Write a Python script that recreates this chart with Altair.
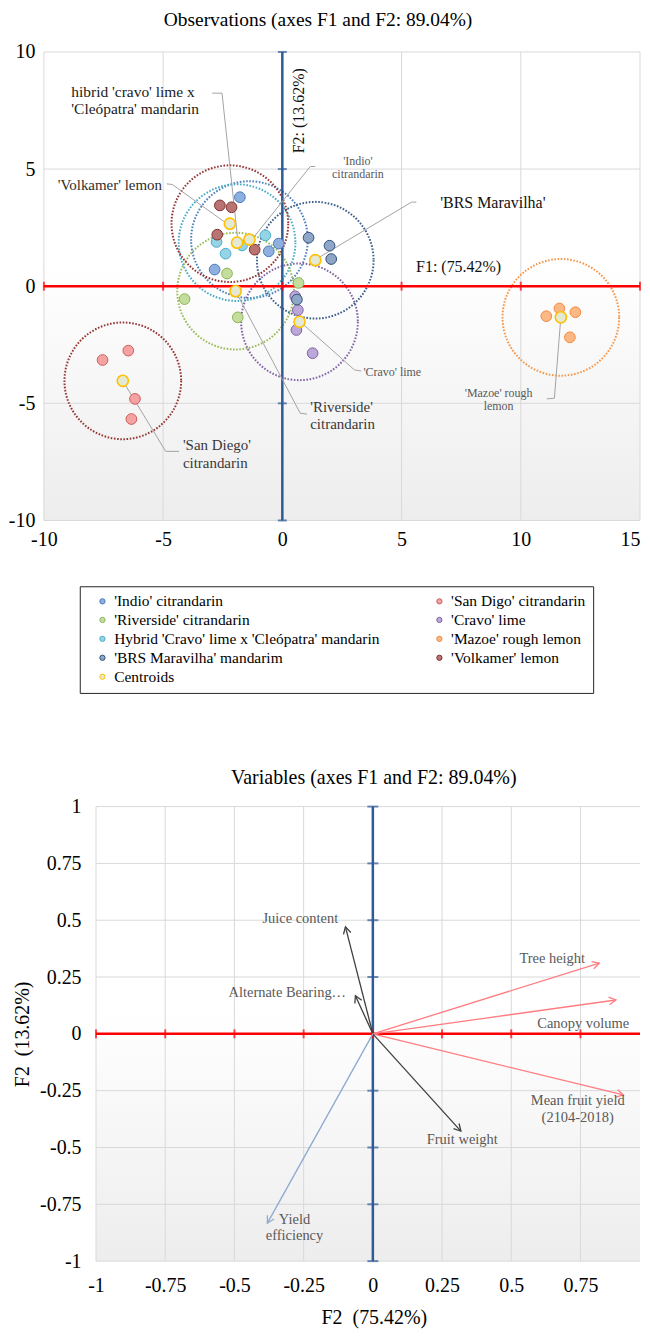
import math
import altair as alt
import pandas as pd

FONT = "Liberation Serif"

# ===================== Observations (top chart) =====================
# legend entries, column by column (left column first)
legend_order = ["'Indio' citrandarin", "'Riverside' citrandarin",
                "Hybrid 'Cravo' lime x 'Cleópatra' mandarin", "'BRS Maravilha' mandarim",
                "Centroids",
                "'San Digo' citrandarin", "'Cravo' lime", "'Mazoe' rough lemon",
                "'Volkamer' lemon"]
point_fill = ["#8DB0E0", "#C3DE9C", "#95D4E6", "#8FA6C6", "#E4E9D6",
              "#F4A3A3", "#BBA8D8", "#FBB784", "#B87472"]
point_stroke = ["#4A78B8", "#8DB356", "#4BACC6", "#2F4F7A", "#FFC000",
                "#D05C5C", "#7E62A3", "#F08A3E", "#7F2F2D"]

group_names = ["'Indio' citrandarin", "'San Digo' citrandarin", "'Riverside' citrandarin",
               "'Cravo' lime", "Hybrid 'Cravo' lime x 'Cleópatra' mandarin",
               "'Mazoe' rough lemon", "'BRS Maravilha' mandarim", "'Volkamer' lemon"]

indio_x = [-1.78, -0.15, -0.57, -2.84]
indio_y = [3.80, 1.82, 1.49, 0.71]
sandiego_x = [-7.54, -6.46, -6.18, -6.33]
sandiego_y = [-3.15, -2.75, -4.81, -5.67]
riverside_x = [-2.32, 0.68, -4.10, -1.87]
riverside_y = [0.54, 0.14, -0.55, -1.33]
cravo_x = [0.54, 0.65, 0.59, 1.27]
cravo_y = [-0.43, -1.02, -1.87, -2.86]
hybrid_x = [-2.76, -2.38, -0.71, -1.69]
hybrid_y = [1.89, 1.39, 2.17, 1.74]
mazoe_x = [11.07, 11.62, 12.29, 12.06]
mazoe_y = [-1.28, -0.95, -1.11, -2.18]
brs_x = [1.10, 1.98, 2.05, 0.61]
brs_y = [2.07, 1.73, 1.16, -0.57]
volkamer_x = [-2.62, -2.13, -2.73, -1.16]
volkamer_y = [3.45, 3.37, 2.20, 1.56]

group_x = [indio_x, sandiego_x, riverside_x, cravo_x, hybrid_x, mazoe_x, brs_x, volkamer_x]
group_y = [indio_y, sandiego_y, riverside_y, cravo_y, hybrid_y, mazoe_y, brs_y, volkamer_y]

centroid_x = [-1.38, -6.69, -1.96, 0.72, -1.90, 11.68, 1.38, -2.20]
centroid_y = [1.99, -4.04, -0.21, -1.52, 1.86, -1.33, 1.11, 2.67]
circle_color = ["#4F81BD", "#953735", "#9BBB59", "#8064A2", "#4BACC6",
                "#F79646", "#3B5E8C", "#943634"]

xticks1 = [-10, -5, 0, 5, 10, 15]
yticks1 = [-10, -5, 0, 5, 10]
red_ticks1 = [-10, -5, 0, 5, 10, 15]
blue_ticks1 = [-10, -5, 5, 10]

leader_x = [[-2.94, -2.53, -1.87], [-4.85, -4.61, -2.38], [1.38, 1.17, -1.27],
            [5.62, 5.42, 1.38], [3.31, 3.02, 0.81], [1.03, 0.75, -1.96],
            [-4.33, -4.89, -6.69], [11.09, 11.41, 11.68]]
leader_y = [[8.24, 8.24, 2.0], [4.37, 4.34, 2.71], [5.11, 5.11, 2.0],
            [3.59, 3.59, 1.13], [-3.62, -3.57, -1.57], [-5.46, -5.42, -0.21],
            [-7.05, -7.05, -4.04], [-4.81, -4.78, -1.33]]

# annotation labels (y = position of the first line)
annL_text = ["hibrid 'cravo' lime x\n'Cleópatra' mandarin", "'Volkamer' lemon",
             "'BRS Maravilha'", "F1: (75.42%)", "'Riverside'\ncitrandarin",
             "'San Diego'\ncitrandarin", "'Cravo' lime"]
annL_x = [-8.85, -9.42, 6.62, 5.61, 1.17, -4.17, 3.40]
annL_y = [8.31, 4.34, 3.53, 0.82, -5.14, -6.80, -3.65]
annL_size = [15.5, 15, 16, 16, 15, 15, 12]
annL_color = ["#1A1A1A", "#2E2E2E", "#111111", "#111111", "#383838", "#383838", "#595959"]
annC_text = ["'Indio'\ncitrandarin", "'Mazoe' rough\nlemon"]
annC_x = [3.17, 9.07]
annC_y = [5.36, -4.54]
annC_size = [12, 12]
annR_text = ["F2: (13.62%)"]
annR_x = [0.68]
annR_y = [7.49]

# ===================== Variables (bottom chart) =====================
var_names = ["Juice content", "Alternate Bearing…", "Tree height", "Canopy volume",
             "Mean fruit yield (2104-2018)", "Fruit weight", "Yield efficiency"]
var_x = [-0.099, -0.063, 0.818, 0.878, 0.905, 0.318, -0.381]
var_y = [0.471, 0.168, 0.311, 0.149, -0.269, -0.428, -0.833]
var_color = ["#404040", "#404040", "#FF7C80", "#FF7C80", "#FF7C80", "#404040", "#8EA9CF"]

lab_text = ["Juice content", "Alternate Bearing…", "Tree height", "Canopy volume",
            "Mean fruit yield\n(2104-2018)", "Fruit weight", "Yield\nefficiency"]
lab_x = [-0.262, -0.309, 0.648, 0.760, 0.740, 0.323, -0.283]
lab_y = [0.507, 0.179, 0.328, 0.043, -0.295, -0.466, -0.817]

xticks2 = [-1, -0.75, -0.5, -0.25, 0, 0.25, 0.5, 0.75]
yticks2 = [-1, -0.75, -0.5, -0.25, 0, 0.25, 0.5, 0.75, 1]
red_ticks2 = [-1, -0.75, -0.5, -0.25, 0, 0.25, 0.5, 0.75]
blue_ticks2 = [-1, -0.75, -0.5, -0.25, 0.25, 0.5, 0.75, 1]

# ---------------------------------------------------------------
LABEL_EXPR = "datum.value < 0 ? '-' + format(-datum.value, '') : format(datum.value, '')"
GRID = "#D9D9D9"
RED = "#FF0000"
BLUE = "#2F5A96"

bg_grad = alt.LinearGradient(
    gradient="linear",
    stops=[alt.GradientStop(color="#FFFFFF", offset=0),
           alt.GradientStop(color="#FFFFFF", offset=0.45),
           alt.GradientStop(color="#EDEDED", offset=1)],
    x1=0, x2=0, y1=0, y2=1)

# ---------------- top chart ----------------
W1, H1 = 598, 470
xs1 = alt.Scale(domain=[-10, 15], nice=False, zero=False)
ys1 = alt.Scale(domain=[-10, 10], nice=False, zero=False)
xa1 = alt.Axis(values=xticks1, labelPadding=9, labelExpr=LABEL_EXPR, title=None,
               labelAlign={"condition": {"test": "datum.value == 15", "value": "right"},
                           "value": "center"})
ya1 = alt.Axis(values=yticks1, labelPadding=9, labelExpr=LABEL_EXPR, title=None)


def X1(f):
    return alt.X(f, type="quantitative", scale=xs1, axis=xa1)


def Y1(f):
    return alt.Y(f, type="quantitative", scale=ys1, axis=ya1)


bg1 = alt.Chart(alt.Data(values=[{}])).mark_rect(fill=bg_grad).encode(
    x=alt.value(0), x2=alt.value(W1), y=alt.value(0), y2=alt.value(H1))

vgrid1 = alt.Chart(pd.DataFrame({"v": xticks1})).mark_rule(color=GRID, strokeWidth=1).encode(x=X1("v"))
hgrid1 = alt.Chart(pd.DataFrame({"v": yticks1})).mark_rule(color=GRID, strokeWidth=1).encode(y=Y1("v"))

circ_df = pd.DataFrame({"x": centroid_x, "y": centroid_y, "c": circle_color})
circles1 = alt.Chart(circ_df).mark_point(
    shape="circle", size=13700, filled=False, strokeWidth=2,
    strokeDash=[1.6, 1.6], opacity=1).encode(
    x=X1("x"), y=Y1("y"), stroke=alt.Stroke("c:N", scale=None))

blue_df = pd.DataFrame({"x": [0], "y": [-10], "y2": [10]})
blue1 = alt.Chart(blue_df).mark_rule(color=BLUE, strokeWidth=2.5).encode(
    x=X1("x"), y=Y1("y"), y2="y2")
blue_t1 = alt.Chart(pd.DataFrame({"v": blue_ticks1, "z": 0})).mark_tick(
    orient="horizontal", color=BLUE, size=9, thickness=2).encode(x=X1("z"), y=Y1("v"))

red1 = alt.Chart(pd.DataFrame({"y": [0]})).mark_rule(color=RED, strokeWidth=2.5).encode(y=Y1("y"))
red_t1 = alt.Chart(pd.DataFrame({"v": red_ticks1, "z": 0})).mark_tick(
    orient="vertical", color=RED, size=9, thickness=2).encode(x=X1("v"), y=Y1("z"))

lead_rows = []
for i, (lx, ly) in enumerate(zip(leader_x, leader_y)):
    for k, (a, b) in enumerate(zip(lx, ly)):
        lead_rows.append({"id": i, "k": k, "x": a, "y": b})
leaders1 = alt.Chart(pd.DataFrame(lead_rows)).mark_line(color="#A3A3A3", strokeWidth=1).encode(
    x=X1("x"), y=Y1("y"), detail="id:N", order="k:Q")

pt_rows = []
for g, xs, ys in zip(group_names, group_x, group_y):
    for a, b in zip(xs, ys):
        pt_rows.append({"grp": g, "x": a, "y": b})
pts_df = pd.DataFrame(pt_rows)
cen_df = pd.DataFrame({"grp": "Centroids", "x": centroid_x, "y": centroid_y})

leg = alt.Legend(title=None, orient="none", legendX=36, legendY=536, columns=2,
                 direction="vertical",
                 symbolType="circle", symbolSize=28, symbolStrokeWidth=1, symbolOpacity=1,
                 symbolOffset=8,
                 labelFont=FONT, labelFontSize=15.5, labelColor="#000000", labelOffset=4,
                 labelLimit=400, rowPadding=2, columnPadding=44, padding=7,
                 strokeColor="#262626", fillColor="#FFFFFF", gridAlign="each")
fill_enc = alt.Fill("grp:N", scale=alt.Scale(domain=legend_order, range=point_fill),
                    legend=leg, sort=legend_order)
stroke_enc = alt.Stroke("grp:N", scale=alt.Scale(domain=legend_order, range=point_stroke),
                        legend=leg, sort=legend_order)

points1 = alt.Chart(pts_df).mark_point(shape="circle", filled=True, size=115, strokeWidth=1,
                                       opacity=1).encode(
    x=X1("x"), y=Y1("y"), fill=fill_enc, stroke=stroke_enc)
cents1 = alt.Chart(cen_df).mark_point(shape="circle", filled=True, size=125, strokeWidth=1.6,
                                      opacity=1).encode(
    x=X1("x"), y=Y1("y"), fill=fill_enc, stroke=stroke_enc)

annL_df = pd.DataFrame({"t": annL_text, "x": annL_x, "y": annL_y, "s": annL_size, "c": annL_color})
annL = alt.Chart(annL_df).mark_text(font=FONT, align="left", baseline="middle",
                                    lineBreak="\n", lineHeight=17.5).encode(
    x=X1("x"), y=Y1("y"), text="t:N", size=alt.Size("s:Q", scale=None),
    color=alt.Color("c:N", scale=None))
annC_df = pd.DataFrame({"t": annC_text, "x": annC_x, "y": annC_y, "s": annC_size})
annC = alt.Chart(annC_df).mark_text(font=FONT, align="center", baseline="middle",
                                    lineBreak="\n", lineHeight=13.5, color="#595959").encode(
    x=X1("x"), y=Y1("y"), text="t:N", size=alt.Size("s:Q", scale=None))
annR = alt.Chart(pd.DataFrame({"t": annR_text, "x": annR_x, "y": annR_y})).mark_text(
    font=FONT, align="center", baseline="middle", angle=270, fontSize=16, color="#111111").encode(
    x=X1("x"), y=Y1("y"), text="t:N")

top = alt.layer(bg1, vgrid1, hgrid1, circles1, blue1, blue_t1, red1, red_t1,
                leaders1, points1, cents1, annL, annC, annR).properties(
    width=W1, height=H1,
    title=alt.TitleParams("Observations (axes F1 and F2: 89.04%)", font=FONT, fontSize=19.5,
                          fontWeight="normal", color="#000000", offset=11.5, anchor="middle",
                          dx=-24))

# ---------------- bottom chart ----------------
# plot area starts at the same left edge as the top plot; x = -1 sits LEFT_GAP px inside it
LEFT_GAP = 52.3
W2, H2 = 598, 456
PX_X = 277.7
X2MIN = -1 - LEFT_GAP / PX_X
X2MAX = X2MIN + W2 / PX_X
PX_Y = H2 / 2.0
xs2 = alt.Scale(domain=[X2MIN, X2MAX], nice=False, zero=False)
ys2 = alt.Scale(domain=[-1, 1], nice=False, zero=False)
xa2 = alt.Axis(values=xticks2, labelPadding=14, labelExpr=LABEL_EXPR,
               title="F2\u00a0 (75.42%)", titlePadding=13, titleX=331, titleAlign="center")
ya2 = alt.Axis(values=yticks2, labelPadding=15, labelExpr=LABEL_EXPR,
               title="F2\u00a0 (13.62%)", titlePadding=7, offset=-LEFT_GAP)


def X2(f):
    return alt.X(f, type="quantitative", scale=xs2, axis=xa2)


def Y2(f):
    return alt.Y(f, type="quantitative", scale=ys2, axis=ya2)


frame_df = pd.DataFrame({"x0": [-1.0], "x1": [X2MAX]})
bg2 = alt.Chart(frame_df).mark_rect(fill=bg_grad).encode(
    x=X2("x0"), x2="x1", y=alt.value(0), y2=alt.value(H2))
vgrid2 = alt.Chart(pd.DataFrame({"v": xticks2})).mark_rule(color=GRID, strokeWidth=1).encode(x=X2("v"))
hgrid2 = alt.Chart(pd.DataFrame({"v": yticks2, "x0": -1.0, "x1": X2MAX})).mark_rule(
    color=GRID, strokeWidth=1).encode(y=Y2("v"), x=X2("x0"), x2="x1")

blue2 = alt.Chart(pd.DataFrame({"x": [0], "y": [-1], "y2": [1]})).mark_rule(
    color=BLUE, strokeWidth=2.5).encode(x=X2("x"), y=Y2("y"), y2="y2")
blue_t2 = alt.Chart(pd.DataFrame({"v": blue_ticks2, "z": 0})).mark_tick(
    orient="horizontal", color=BLUE, size=11, thickness=2).encode(x=X2("z"), y=Y2("v"))
red2 = alt.Chart(pd.DataFrame({"y": [0], "x0": [-1.0], "x1": [X2MAX]})).mark_rule(
    color=RED, strokeWidth=2.5).encode(y=Y2("y"), x=X2("x0"), x2="x1")
red_t2 = alt.Chart(pd.DataFrame({"v": red_ticks2, "z": 0})).mark_tick(
    orient="vertical", color=RED, size=9, thickness=2).encode(x=X2("v"), y=Y2("z"))

vec_df = pd.DataFrame({"name": var_names, "vx": var_x, "vy": var_y, "c": var_color,
                       "x0": 0.0, "y0": 0.0})
vec_df["ang"] = [(math.degrees(math.atan2(a * PX_X, b * PX_Y)) + 360) % 360
                 for a, b in zip(var_x, var_y)]
vec_lines = alt.Chart(vec_df).mark_rule(strokeWidth=1.3).encode(
    x=X2("x0"), y=Y2("y0"), x2="vx", y2="vy", color=alt.Color("c:N", scale=None))
CHEVRON = "M -0.55 1 L 0 0 L 0.55 1"
vec_heads = alt.Chart(vec_df).mark_point(shape=CHEVRON, size=190, filled=False,
                                         strokeWidth=1.3, opacity=1).encode(
    x=X2("vx"), y=Y2("vy"), angle=alt.Angle("ang:Q", scale=None),
    stroke=alt.Stroke("c:N", scale=None))

lab_df = pd.DataFrame({"t": lab_text, "x": lab_x, "y": lab_y})
labels2 = alt.Chart(lab_df).mark_text(font=FONT, fontSize=14.5, color="#595959", align="center",
                                      baseline="middle", lineBreak="\n", lineHeight=17).encode(
    x=X2("x"), y=Y2("y"), text="t:N")

bottom = alt.layer(bg2, vgrid2, hgrid2, blue2, blue_t2, red2, red_t2,
                   vec_lines, vec_heads, labels2).properties(
    width=W2, height=H2,
    title=alt.TitleParams("Variables (axes F1 and F2: 89.04%)", font=FONT, fontSize=20,
                          fontWeight="normal", color="#000000", offset=8.7, anchor="middle",
                          frame="group", dx=32))

chart = alt.vconcat(top, bottom, spacing=219).properties(
    padding=0
).configure_view(stroke=None).configure_axis(
    labelFont=FONT, labelFontSize=20, labelColor="#000000",
    titleFont=FONT, titleFontSize=20, titleFontWeight="normal", titleColor="#000000",
    grid=False, domain=False, ticks=False, labelFlush=False, labelOverlap=False)

chart.save("out.html", embed_options={"renderer": "svg", "actions": False})
